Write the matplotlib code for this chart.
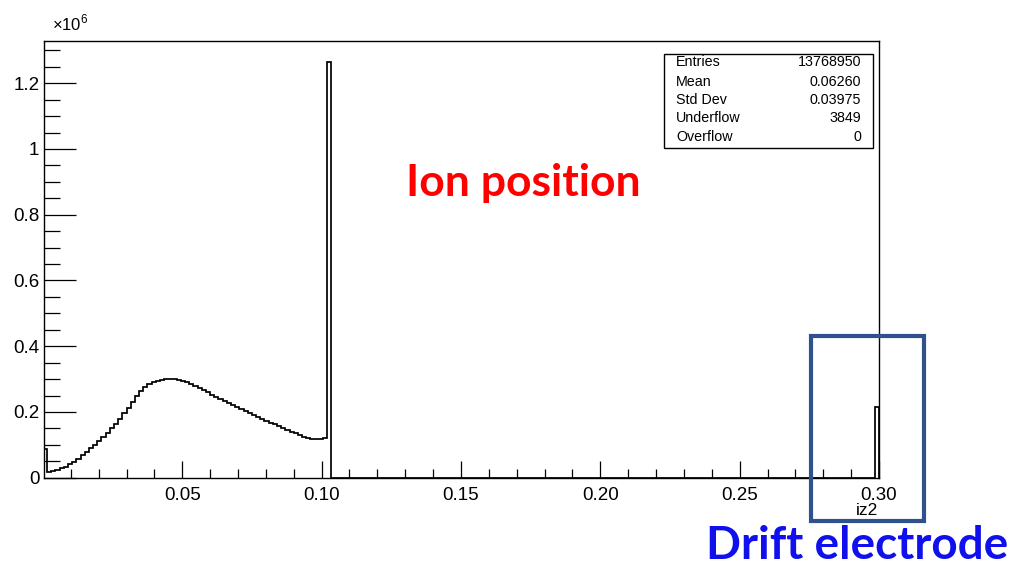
import numpy as np
import matplotlib.pyplot as plt
from matplotlib.ticker import FixedLocator, MultipleLocator, FuncFormatter
from matplotlib.patches import Rectangle

plt.rcParams['font.family'] = ['Liberation Sans', 'DejaVu Sans']
plt.rcParams['mathtext.fontset'] = 'custom'
plt.rcParams['mathtext.rm'] = 'Liberation Sans'

W, H = 1021, 568

# histogram: 200 bins on [0, 0.30], counts in units of 1e6
n_bins = 200
x_lo, x_hi = 0.0, 0.30
counts_low = [0.086, 0.018, 0.021, 0.024, 0.028, 0.033, 0.041, 0.049, 0.058, 0.068,
              0.078, 0.089, 0.100, 0.112, 0.124, 0.136, 0.150, 0.164, 0.180, 0.196,
              0.213, 0.231, 0.249, 0.264, 0.276, 0.284, 0.290, 0.294, 0.297, 0.299,
              0.300, 0.299, 0.297, 0.295, 0.291, 0.284, 0.278, 0.272, 0.266, 0.260,
              0.253, 0.246, 0.239, 0.233, 0.226, 0.220, 0.214, 0.208, 0.202, 0.196,
              0.190, 0.184, 0.178, 0.172, 0.167, 0.162, 0.156, 0.151, 0.145, 0.140,
              0.135, 0.130, 0.125, 0.120, 0.117, 0.117, 0.117, 0.122, 1.266]
count_last = 0.214

stat_names = ['Entries', 'Mean', 'Std Dev', 'Underflow', 'Overflow']
stat_values = ['13768950', '0.06260', '0.03975', '3849', '0']

edges = np.linspace(x_lo, x_hi, n_bins + 1)
counts = np.zeros(n_bins)
counts[:len(counts_low)] = counts_low
counts[-1] = count_last

fig = plt.figure(figsize=(W / 100, H / 100), dpi=100)
fig.patch.set_facecolor('white')

def px(x, y):
    return x / W, 1 - y / H

ax_l, ax_r, ax_t, ax_b = 44.3, 879.0, 40.7, 477.7
ax = fig.add_axes([ax_l / W, 1 - ax_b / H, (ax_r - ax_l) / W, (ax_b - ax_t) / H])
ax.stairs(counts, edges, color='black', lw=1.25, baseline=0)
ax.set_xlim(x_lo + 0.0005, x_hi)
ax.set_ylim(0, 1.05 * counts.max())

for s in ax.spines.values():
    s.set_linewidth(1.0)

ax.xaxis.set_major_locator(FixedLocator([0.05, 0.10, 0.15, 0.20, 0.25, 0.30]))
ax.xaxis.set_minor_locator(MultipleLocator(0.01))
ax.xaxis.set_major_formatter(FuncFormatter(lambda v, p: f'{v:.2f}'))
ax.yaxis.set_major_locator(MultipleLocator(0.2))
ax.yaxis.set_minor_locator(MultipleLocator(0.05))
ax.yaxis.set_major_formatter(FuncFormatter(lambda v, p: f'{v:g}'))

ax.tick_params(axis='both', which='both', direction='in', top=False, right=False,
               width=0.9, labelsize=13.5)
ax.tick_params(axis='y', which='major', length=23, pad=3.6)
ax.tick_params(axis='y', which='minor', length=11.5)
ax.tick_params(axis='x', which='major', length=12, pad=6.5)
ax.tick_params(axis='x', which='minor', length=6.5)

fig.text(*px(52, 30), r'$\times10^{6}$', fontsize=12, ha='left', va='baseline')
fig.text(*px(878, 515), 'iz2', fontsize=12.5, ha='right', va='baseline')

# stats box
bx0, by0, bx1, by1 = 664, 54, 873, 148
fig.patches.append(Rectangle(px(bx0, by1), (bx1 - bx0) / W, (by1 - by0) / H,
                             transform=fig.transFigure, facecolor='white',
                             edgecolor='black', lw=1.0, zorder=5))
row_y = [62.5, 81.5, 100.5, 118.5, 137]
for name, val, y in zip(stat_names, stat_values, row_y):
    fig.text(*px(676, y), name, fontsize=10.3, ha='left', va='center', zorder=6)
    fig.text(*px(861, y), val, fontsize=10.3, ha='right', va='center', zorder=6)

# annotations
fig.text(*px(523, 183), 'Ion position', color='#FF0000', fontsize=32,
         fontweight='bold', family=['Lato', 'DejaVu Sans'], ha='center', va='center')
fig.text(*px(857, 546), 'Drift electrode', color='#1010EE', fontsize=33,
         fontweight='bold', family=['Lato', 'DejaVu Sans'], ha='center', va='center')
fig.patches.append(Rectangle(px(810.7, 521), (924 - 810.7) / W, (521 - 336) / H,
                             transform=fig.transFigure, fill=False,
                             edgecolor='#2F528F', lw=3.0, zorder=7))

fig.savefig('out.png', dpi=100, facecolor='white')
